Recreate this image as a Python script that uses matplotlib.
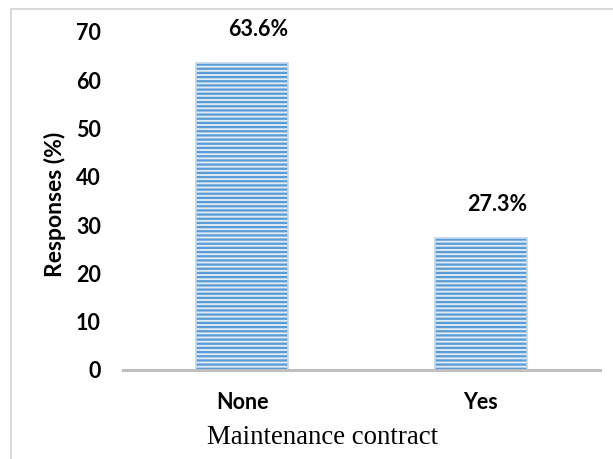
import matplotlib
matplotlib.use("Agg")
import matplotlib.pyplot as plt
from matplotlib.patches import Rectangle

categories = ["None", "Yes"]
responses = [63.6, 27.3]
bar_labels = ["63.6%", "27.3%"]
yticks = [0, 10, 20, 30, 40, 50, 60, 70]

plt.rcParams["hatch.linewidth"] = 1.6

W, H = 613, 459
fig = plt.figure(figsize=(W / 100, H / 100), dpi=100)

# light grey frame around the chart area (only top and left visible)
fig.patches.append(Rectangle((11 / W, -0.1), 1.2, 1.1 - 9 / H, transform=fig.transFigure,
                             fill=False, edgecolor="#D9D9D9", linewidth=1.5))

ax = fig.add_axes([123 / W, 1 - 370 / H, 477 / W, 338 / H])
x = range(len(categories))
ax.bar(x, responses, width=0.385, color="#DDEBF7", edgecolor="#5B9BD5",
       linewidth=0, hatch="----", zorder=2)
# soft outline
ax.bar(x, responses, width=0.385, fill=False, edgecolor="#BDD7EE",
       linewidth=1.2, zorder=2.5)

bold = dict(fontsize=15.5, fontweight="bold", family="Lato")

for xi, v, lab in zip(x, responses, bar_labels):
    ax.annotate(lab, (xi, v), xytext=(11.5, 19.5), textcoords="offset points",
                ha="center", va="baseline", **bold)

ax.set_xlim(-0.5, 1.5)
ax.set_ylim(0, 70)
ax.set_yticks(yticks)
ax.set_xticks(list(x))
ax.set_xticklabels(categories, **bold)
for t in ax.get_yticklabels():
    t.set_fontsize(15.5)
    t.set_fontweight("bold")
    t.set_family("Lato")
ax.tick_params(axis="both", length=0)
ax.tick_params(axis="y", pad=16)
ax.tick_params(axis="x", pad=16)

for s in ["top", "right", "left"]:
    ax.spines[s].set_visible(False)
ax.spines["bottom"].set_color("#BFBFBF")
ax.spines["bottom"].set_linewidth(2.2)
ax.spines["bottom"].set_zorder(3)

ax.set_ylabel("Responses (%)", fontsize=16.5, fontweight="bold", family="Lato",
              va="center", ha="center")
ax.yaxis.set_label_coords(-0.1426, 0.491)
ax.set_xlabel("Maintenance contract", fontsize=19.3, family="Liberation Serif",
              va="baseline")
ax.xaxis.set_label_coords(0.419, -0.219)

fig.savefig("out.png", dpi=100)
